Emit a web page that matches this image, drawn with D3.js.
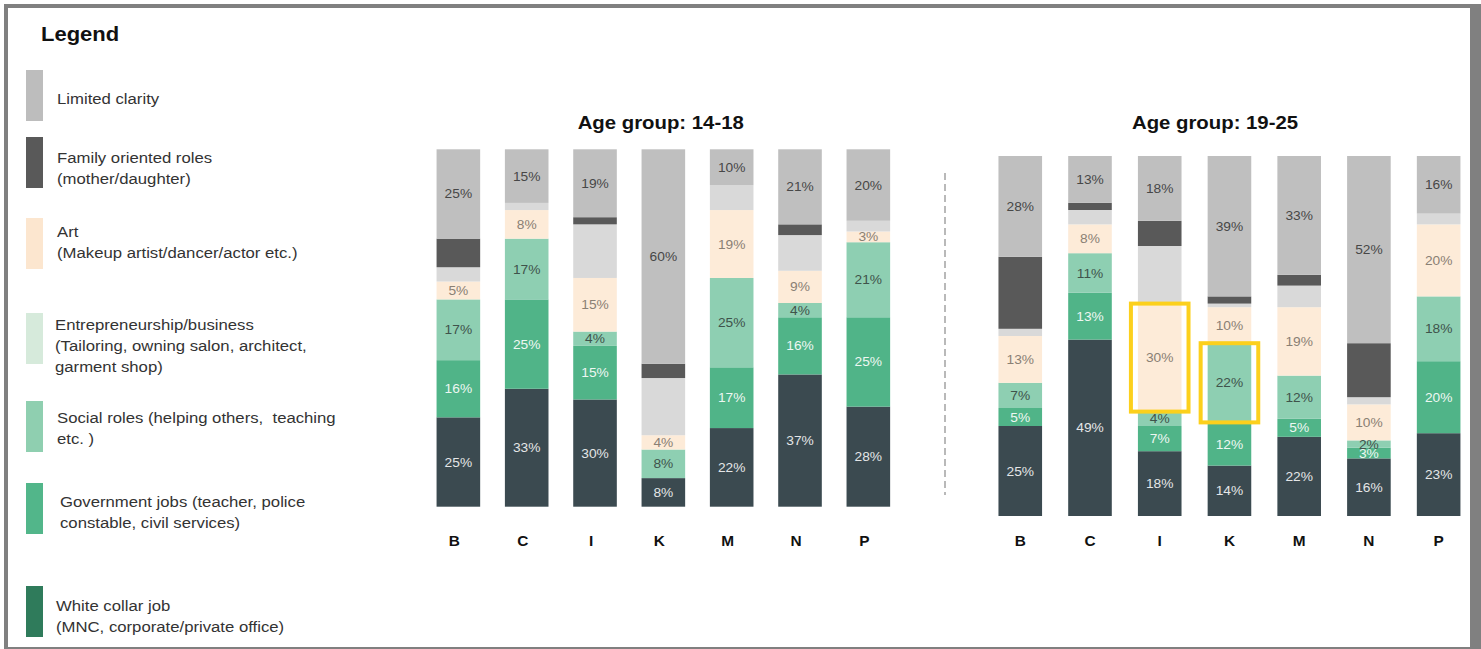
<!DOCTYPE html>
<html>
<head>
<meta charset="utf-8">
<script src="https://cdn.jsdelivr.net/npm/d3@7"></script>
<style>
  html, body { margin: 0; padding: 0; background: #fff; }
  svg { display: block; }
</style>
</head>
<body>
<svg id="chart" width="1481" height="649"></svg>
<script>
// ---- Data ---------------------------------------------------------------
const categories = ["B", "C", "I", "K", "M", "N", "P"];

// Series, listed top of bar to bottom
const seriesKeys = ["limited", "family", "entre", "art", "social", "gov", "white"];

// Age group 14-18 (percent)
const limited1418 = [25, 15, 19, 60, 10, 21, 20];
const family1418  = [ 8,  0,  2,  4,  0,  3,  0];
const entre1418   = [ 4,  2, 15, 16,  7, 10,  3];
const art1418     = [ 5,  8, 15,  4, 19,  9,  3];
const social1418  = [17, 17,  4,  8, 25,  4, 21];
const gov1418     = [16, 25, 15,  0, 17, 16, 25];
const white1418   = [25, 33, 30,  8, 22, 37, 28];

// Age group 19-25 (percent)
const limited1925 = [28, 13, 18, 39, 33, 52, 16];
const family1925  = [20,  2,  7,  2,  3, 15,  0];
const entre1925   = [ 2,  4, 16,  1,  6,  2,  3];
const art1925     = [13,  8, 30, 10, 19, 10, 20];
const social1925  = [ 7, 11,  4, 22, 12,  2, 18];
const gov1925     = [ 5, 13,  7, 12,  5,  3, 20];
const white1925   = [25, 49, 18, 14, 22, 16, 23];

const chartTitles = ["Age group: 14-18", "Age group: 19-25"];

// Series that carry a value label inside the bar
const labelledSeries = ["limited", "art", "social", "gov", "white"];

// Segments called out with a highlight frame: [chart index, category, series]
const highlights = [[1, "I", "art"], [1, "K", "social"]];

// Legend entries (text lines) in display order
const legendLines = [
  ["Limited clarity"],
  ["Family oriented roles", "(mother/daughter)"],
  ["Art", "(Makeup artist/dancer/actor etc.)"],
  ["Entrepreneurship/business", "(Tailoring, owning salon, architect,", "garment shop)"],
  ["Social roles (helping others,  teaching", "etc. )"],
  ["Government jobs (teacher, police", "constable, civil services)"],
  ["White collar job", "(MNC, corporate/private office)"]
];

// ---- Styling ------------------------------------------------------------
const FONT = '"Liberation Sans", Arial, Helvetica, sans-serif';
const SX = 1.1; // slight horizontal stretch applied to all text

const barColor = d3.scaleOrdinal()
  .domain(seriesKeys)
  .range(["#bfbfbf", "#595959", "#d9d9d9", "#fdebd8", "#8ecfb2", "#50b488", "#3b4a50"]);

const labelColor = d3.scaleOrdinal()
  .domain(seriesKeys)
  .range(["#474747", "#f0f0f0", "#555", "#8a8074", "#3f534b", "#eef7f2", "#e4e6e7"]);

const legendColors = ["#bdbdbd", "#595959", "#fce6cf", "#d6eadb", "#8fcfb0", "#52b68a", "#2f7b5b"];
const legendSwatchTops = [70, 137, 218, 313, 401, 483, 586];
const legendBaselines  = [104, 163, 237, 330, 423, 507, 611];
const legendTextX      = [57, 57, 57, 55, 57, 60, 56];

// ---- Build tables -------------------------------------------------------
function buildTable(cols) {
  return categories.map((c, i) => {
    const row = { category: c };
    seriesKeys.forEach((k, j) => { row[k] = cols[j][i]; });
    return row;
  });
}
const table1418 = buildTable([limited1418, family1418, entre1418, art1418, social1418, gov1418, white1418]);
const table1925 = buildTable([limited1925, family1925, entre1925, art1925, social1925, gov1925, white1925]);

const svg = d3.select("#chart");

function stretched(sel, x, y) {
  return sel.attr("transform", `translate(${x},${y}) scale(${SX},1)`);
}

// ---- Outer frame ----------------------------------------------------------
svg.append("rect")
  .attr("x", 6).attr("y", 6)
  .attr("width", 1466).attr("height", 643)
  .attr("fill", "none")
  .attr("stroke", "#808080")
  .attr("stroke-width", 4);
svg.append("rect")
  .attr("x", 1470).attr("y", 4)
  .attr("width", 11).attr("height", 645)
  .attr("fill", "#808080");

// ---- Legend ---------------------------------------------------------------
stretched(svg.append("text"), 41, 41)
  .attr("font-family", FONT)
  .attr("font-size", 20)
  .attr("font-weight", "bold")
  .attr("fill", "#111")
  .text("Legend");

const legend = svg.append("g").attr("class", "legend");
legendLines.forEach((lines, i) => {
  legend.append("rect")
    .attr("x", 26).attr("y", legendSwatchTops[i])
    .attr("width", 17).attr("height", 51)
    .attr("fill", legendColors[i]);
  lines.forEach((line, j) => {
    stretched(legend.append("text"), legendTextX[i], legendBaselines[i] + j * 21)
      .attr("font-family", FONT)
      .attr("font-size", 15.2)
      .attr("fill", "#333")
      .attr("xml:space", "preserve")
      .style("white-space", "pre")
      .text(line);
  });
});

// ---- Charts ---------------------------------------------------------------
const stackOrder = seriesKeys.slice().reverse(); // bottom to top
const stack = d3.stack().keys(stackOrder);

const layouts = [
  { data: table1418, x0: 424.2, x1: 902.5, top: 149.3, bottom: 506.7, titleX: 660.7, tickDx: -4 },
  { data: table1925, x0: 985.4, x1: 1473.5, top: 156, bottom: 516, titleX: 1215, tickDx: 0 }
];

layouts.forEach((L, ci) => {
  const g = svg.append("g").attr("class", "chart-" + ci);
  const bandPad = 1 - 43.6 / ((L.x1 - L.x0) / categories.length);
  const x = d3.scaleBand()
    .domain(categories)
    .range([L.x0, L.x1])
    .paddingInner(bandPad)
    .paddingOuter(bandPad / 2);
  const y = d3.scaleLinear().domain([0, 100]).range([L.bottom, L.top]);

  const layers = stack(L.data);

  // stacked segments
  const layerG = g.selectAll("g.layer")
    .data(layers)
    .join("g")
    .attr("class", "layer")
    .attr("fill", d => barColor(d.key));

  layerG.selectAll("rect")
    .data(d => d.map(s => ({ s, key: d.key })))
    .join("rect")
    .attr("x", d => x(d.s.data.category))
    .attr("width", x.bandwidth())
    .attr("y", d => y(d.s[1]))
    .attr("height", d => Math.max(0, y(d.s[0]) - y(d.s[1])));

  // value labels
  const labels = [];
  layers.forEach(layer => {
    if (!labelledSeries.includes(layer.key)) return;
    layer.forEach(s => {
      const v = s[1] - s[0];
      if (v <= 0) return;
      labels.push({
        key: layer.key,
        v,
        cx: x(s.data.category) + x.bandwidth() / 2,
        cy: (y(s[0]) + y(s[1])) / 2
      });
    });
  });
  g.selectAll("text.val")
    .data(labels)
    .join("text")
    .attr("class", "val")
    .attr("transform", d => `translate(${d.cx},${d.cy}) scale(${SX},1)`)
    .attr("text-anchor", "middle")
    .attr("dy", "0.36em")
    .attr("font-family", FONT)
    .attr("font-size", 12.5)
    .attr("fill", d => labelColor(d.key))
    .text(d => d.v + "%");

  // highlight frames
  highlights.filter(h => h[0] === ci).forEach(h => {
    const layer = layers.find(l => l.key === h[2]);
    const seg = layer.find(s => s.data.category === h[1]);
    const padX = 7;
    g.append("rect")
      .attr("x", x(h[1]) - padX)
      .attr("y", y(seg[1]))
      .attr("width", x.bandwidth() + 2 * padX)
      .attr("height", y(seg[0]) - y(seg[1]))
      .attr("fill", "none")
      .attr("stroke", "#fcd01c")
      .attr("stroke-width", 4);
  });

  // category axis
  const axis = g.append("g")
    .attr("transform", "translate(0,536)")
    .call(d3.axisBottom(x).tickSize(0).tickPadding(0));
  axis.select(".domain").remove();
  axis.selectAll("text")
    .attr("font-family", FONT)
    .attr("font-size", 14)
    .attr("font-weight", "bold")
    .attr("fill", "#111")
    .attr("transform", `translate(${L.tickDx},0) scale(${SX},1)`);

  // title
  stretched(g.append("text"), L.titleX, 129.3)
    .attr("text-anchor", "middle")
    .attr("font-family", FONT)
    .attr("font-size", 18.5)
    .attr("font-weight", "bold")
    .attr("fill", "#111")
    .text(chartTitles[ci]);
});

// dashed divider between the two age groups
svg.append("line")
  .attr("x1", 945).attr("x2", 945)
  .attr("y1", 173).attr("y2", 495)
  .attr("stroke", "#a8a8a8")
  .attr("stroke-width", 1.6)
  .attr("stroke-dasharray", "7,4");
</script>
</body>
</html>
